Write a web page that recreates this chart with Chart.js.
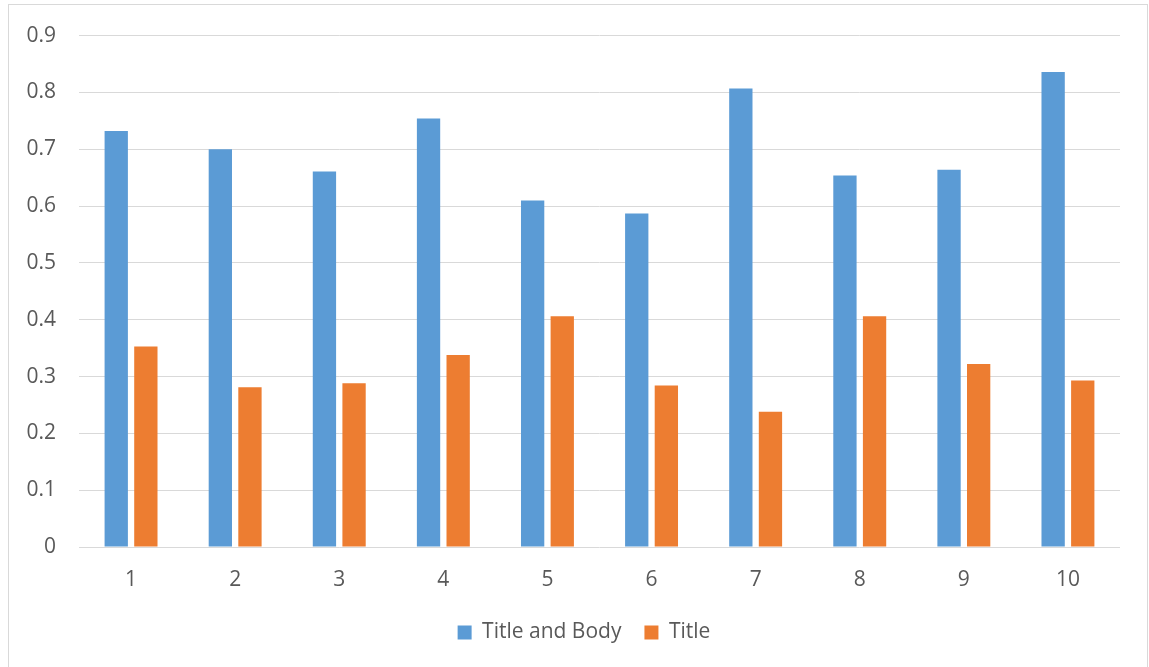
<!DOCTYPE html>
<html>
<head>
<meta charset="utf-8">
<script src="https://cdn.jsdelivr.net/npm/chart.js@4.4.1/dist/chart.umd.min.js"></script>
<style>
  html, body { margin: 0; padding: 0; background: #ffffff; }
  #wrap { position: relative; width: 1149px; height: 667px; }
</style>
</head>
<body>
<div id="wrap"><canvas id="chart" width="1149" height="667"></canvas></div>
<script>
// Categories and series
const categories = ['1', '2', '3', '4', '5', '6', '7', '8', '9', '10'];
const titleAndBody = [0.732, 0.700, 0.661, 0.754, 0.610, 0.587, 0.807, 0.654, 0.664, 0.836];
const titleOnly = [0.353, 0.281, 0.288, 0.338, 0.406, 0.284, 0.238, 0.406, 0.322, 0.293];
const seriesNames = ['Title and Body', 'Title'];
const yTicks = [0, 0.1, 0.2, 0.3, 0.4, 0.5, 0.6, 0.7, 0.8, 0.9];

const FONT = "'Open Sans', 'Liberation Sans', sans-serif";
const TEXT = '#595959';
const GRID = '#d9d9d9';

// Thin frame around the whole chart area, plus centring the legend on the page
const framePlugin = {
  id: 'frame',
  afterLayout(chart) {
    const lg = chart.legend;
    if (lg) { lg.left += 24; lg.right += 24; }
  },
  afterDraw(chart) {
    const ctx = chart.ctx;
    ctx.save();
    ctx.strokeStyle = GRID;
    ctx.lineWidth = 1;
    ctx.strokeRect(8.5, 4.5, 1139, 680);
    ctx.restore();
  }
};

new Chart(document.getElementById('chart'), {
  type: 'bar',
  data: {
    labels: categories,
    datasets: [
      { label: seriesNames[0], data: titleAndBody, backgroundColor: '#5B9BD5' },
      { label: seriesNames[1], data: titleOnly, backgroundColor: '#ED7D31' }
    ]
  },
  plugins: [framePlugin],
  options: {
    responsive: false,
    animation: false,
    devicePixelRatio: 1,
    categoryPercentage: 0.569,
    barPercentage: 0.787,
    layout: { padding: { left: 0, right: 29, top: 34, bottom: 14 } },
    plugins: {
      tooltip: { enabled: false },
      legend: {
        position: 'bottom',
        labels: {
          boxWidth: 14,
          boxHeight: 14,
          padding: 23,
          color: TEXT,
          font: { family: FONT, size: 21 }
        }
      }
    },
    scales: {
      x: {
        grid: { display: false, drawTicks: false },
        border: { display: false },
        ticks: { color: TEXT, font: { family: FONT, size: 21 }, padding: 20 },
        afterFit(scale) { scale.height = 52; }
      },
      y: {
        min: 0,
        max: 0.9,
        afterBuildTicks(scale) { scale.ticks = yTicks.map(v => ({ value: v })); },
        grid: { color: GRID, lineWidth: 1, drawTicks: false },
        border: { display: false },
        ticks: {
          color: TEXT,
          font: { family: FONT, size: 21 },
          padding: 23,
          callback: v => String(Math.round(v * 10) / 10)
        },
        afterFit(scale) { scale.width = 79; }
      }
    }
  }
});
</script>
</body>
</html>
